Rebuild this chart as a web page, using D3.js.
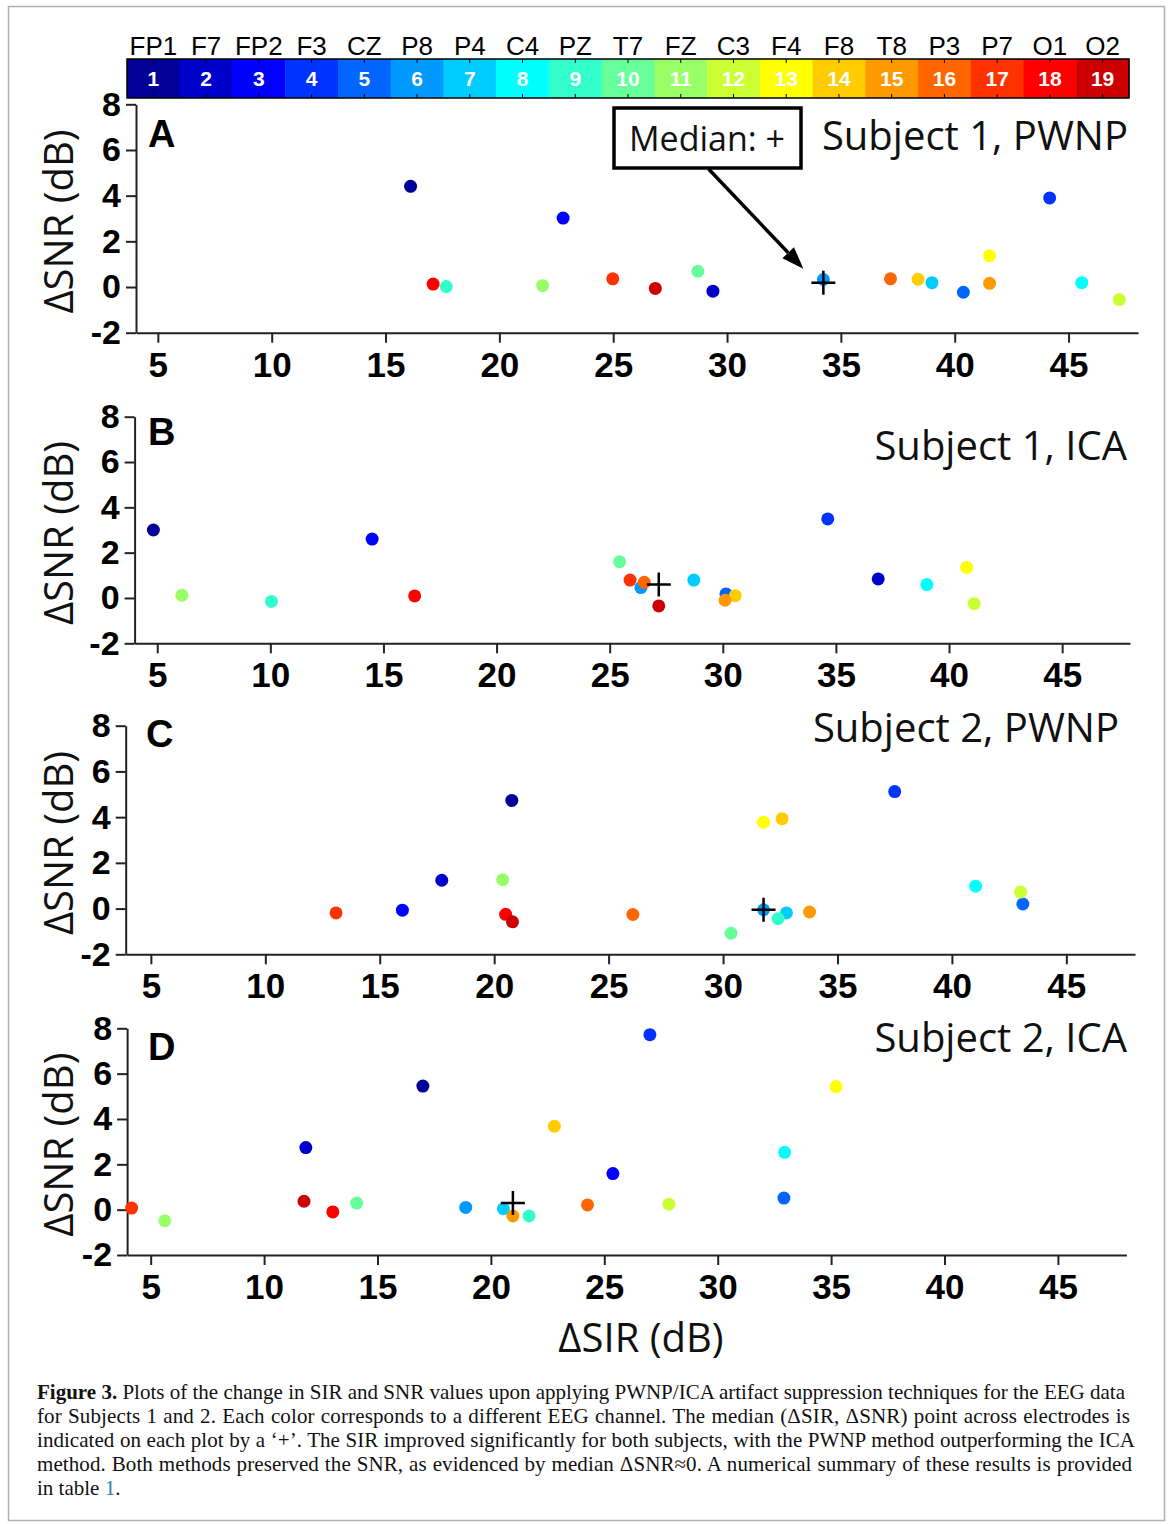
<!DOCTYPE html>
<html><head><meta charset="utf-8">
<script src="https://cdn.jsdelivr.net/npm/d3@7"></script>
<style>body{margin:0;background:#fff}</style>
</head><body>
<svg id="chart" width="1168" height="1524"></svg>
<script>
// ---------- data ----------
const channels = ["FP1","F7","FP2","F3","CZ","P8","P4","C4","PZ","T7","FZ","C3","F4","F8","T8","P3","P7","O1","O2"];
const channelColors = ["#000099","#0000cc","#0000ff","#0033ff","#0066ff","#0099ff","#00ccff","#00ffff","#33ffcc","#66ff99","#99ff66","#ccff33","#ffff00","#ffcc00","#ff9900","#ff6600","#ff3300","#ff0000","#cc0000"];
const xTicks = [5,10,15,20,25,30,35,40,45];
const yTicks = [-2,0,2,4,6,8];
const panelTitles = ["Subject 1, PWNP","Subject 1, ICA","Subject 2, PWNP","Subject 2, ICA"];
const panelLetters = ["A","B","C","D"];

// values per channel (order of `channels`)
const sirA = [16.1,29.38,22.8,44.17,40.38,34.23,39.0,45.58,17.67,28.72,21.9,47.23,41.53,38.39,41.53,37.18,24.98,17.09,26.85];
const snrA = [4.41,-0.18,3.02,3.9,-0.23,0.33,0.19,0.19,0.02,0.69,0.06,-0.55,1.37,0.34,0.16,0.36,0.36,0.13,-0.06];
const sirB = [4.83,36.87,14.5,34.64,30.14,26.38,28.72,39.02,10.05,25.44,6.09,41.11,40.78,30.55,30.1,26.53,25.9,16.38,27.17];
const snrB = [3.0,0.84,2.6,3.49,0.18,0.46,0.79,0.59,-0.15,1.6,0.12,-0.25,1.35,0.1,-0.1,0.69,0.79,0.09,-0.35];
const sirC = [20.77,17.71,15.99,37.5,43.1,31.77,32.77,41.04,32.4,30.35,20.37,43.0,31.77,32.58,33.78,26.06,13.09,20.5,20.8];
const snrC = [4.73,1.24,-0.07,5.12,0.2,-0.05,-0.19,0.98,-0.44,-1.08,1.26,0.72,3.78,3.93,-0.15,-0.26,-0.19,-0.25,-0.58];
const sirD = [17.0,11.84,25.38,27.01,32.92,18.89,20.55,32.95,21.68,14.08,5.62,27.85,35.22,22.8,20.97,24.26,4.16,13.03,11.76];
const snrD = [5.45,2.74,1.59,7.72,0.51,0.1,0.04,2.53,-0.28,0.29,-0.49,0.24,5.43,3.68,-0.28,0.21,0.07,-0.1,0.37];

const captionLines = [
  [["Figure 3.", "bold"], [" Plots of the change in SIR and SNR values upon applying PWNP/ICA artifact suppression techniques for the EEG data", "normal"]],
  [["for Subjects 1 and 2. Each color corresponds to a different EEG channel. The median (\u0394SIR, \u0394SNR) point across electrodes is", "normal"]],
  [["indicated on each plot by a \u2018+\u2019. The SIR improved significantly for both subjects, with the PWNP method outperforming the ICA", "normal"]],
  [["method. Both methods preserved the SNR, as evidenced by median \u0394SNR\u22480. A numerical summary of these results is provided", "normal"]],
  [["in table ", "normal"], ["1", "link"], [".", "normal"]]
];

// ---------- layout ----------
const svg = d3.select("#chart");
const W = 1168, H = 1524;
svg.append("rect").attr("width", W).attr("height", H).attr("fill", "#fff");
svg.append("rect").attr("x", 8.5).attr("y", 6.5).attr("width", 1156).attr("height", 1514)
  .attr("fill", "none").attr("stroke", "#b0b0b0").attr("stroke-width", 1.5);

const SANS = "'Liberation Sans', Arial, sans-serif";
const OPEN = "'Open Sans', 'Noto Sans', sans-serif";

// colorbar
const cbTop = 59, cbBot = 98;
const cbx = d3.scaleBand().domain(d3.range(channels.length)).range([127, 1129]);
const cb = svg.append("g");
cb.selectAll("rect.cell").data(channels).join("rect").attr("class","cell")
  .attr("x", (d,i) => cbx(i)).attr("y", cbTop).attr("width", cbx.bandwidth() + 0.5).attr("height", cbBot - cbTop)
  .attr("fill", (d,i) => channelColors[i]);
cb.selectAll("text.num").data(channels).join("text").attr("class","num")
  .attr("x", (d,i) => cbx(i) + cbx.bandwidth()/2).attr("y", 86)
  .attr("text-anchor","middle").attr("fill","#fff").attr("font-family", SANS)
  .attr("font-weight","bold").attr("font-size", 21).text((d,i) => i + 1);
cb.selectAll("text.name").data(channels).join("text").attr("class","name")
  .attr("x", (d,i) => cbx(i) + cbx.bandwidth()/2).attr("y", 55)
  .attr("text-anchor","middle").attr("fill","#000").attr("font-family", SANS)
  .attr("font-size", 26).text(d => d);
cb.selectAll("line.tt").data(channels).join("line").attr("class","tt")
  .attr("x1", (d,i) => cbx(i) + cbx.bandwidth()/2).attr("x2", (d,i) => cbx(i) + cbx.bandwidth()/2)
  .attr("y1", cbBot).attr("y2", cbBot - 4).attr("stroke","#000").attr("stroke-width",1);
cb.selectAll("line.tb").data(channels).join("line").attr("class","tb")
  .attr("x1", (d,i) => cbx(i) + cbx.bandwidth()/2).attr("x2", (d,i) => cbx(i) + cbx.bandwidth()/2)
  .attr("y1", cbTop).attr("y2", cbTop + 4).attr("stroke","#000").attr("stroke-width",1);
cb.append("rect").attr("x", 127).attr("y", cbTop).attr("width", 1129 - 127).attr("height", cbBot - cbTop)
  .attr("fill","none").attr("stroke","#000").attr("stroke-width",1.5);

// panels
const panelData = [[sirA, snrA],[sirB, snrB],[sirC, snrC],[sirD, snrD]];
const panelBoxes = [
  {left:136, right:1138, top:104.3, bottom:332.7, xmin:4.04, xmax:48.05, titleX:1128, titleY:150, letterX:148, letterY:147},
  {left:134.6, right:1130, top:416.7, bottom:643.3, xmin:4.0, xmax:48.0, titleX:1127, titleY:460, letterX:148, letterY:445},
  {left:125.7, right:1135, top:725.7, bottom:954.3, xmin:3.9, xmax:48.0, titleX:1119, titleY:742, letterX:146, letterY:747},
  {left:127.1, right:1126.4, top:1028.3, bottom:1255, xmin:3.96, xmax:48.02, titleX:1127, titleY:1052, letterX:148, letterY:1060}
];

const axisColor = "#222";
panelBoxes.forEach((p, k) => {
  const [sir, snr] = panelData[k];
  const x = d3.scaleLinear().domain([p.xmin, p.xmax]).range([p.left, p.right]);
  const y = d3.scaleLinear().domain([-2, 8]).range([p.bottom, p.top]);
  const g = svg.append("g");

  const gx = g.append("g").attr("transform", `translate(0,${p.bottom})`)
    .call(d3.axisBottom(x).tickValues(xTicks).tickSize(10).tickSizeOuter(0).tickPadding(9).tickFormat(d => String(d)));
  const gy = g.append("g").attr("transform", `translate(${p.left},0)`)
    .call(d3.axisLeft(y).tickValues(yTicks).tickSize(10).tickSizeOuter(0).tickPadding(5).tickFormat(d => String(d)));
  [gx, gy].forEach(a => {
    a.select(".domain").attr("stroke", axisColor).attr("stroke-width", 2);
    a.selectAll(".tick line").attr("stroke", axisColor).attr("stroke-width", 2);
    a.selectAll(".tick text").attr("fill","#000").attr("font-family", SANS).attr("font-weight","bold");
  });
  gx.selectAll(".tick text").attr("font-size", 35);
  gy.selectAll(".tick text").attr("font-size", 34);

  // y axis label
  g.append("text").attr("transform", `translate(73,${(p.top + p.bottom)/2 + 3}) rotate(-90)`)
    .attr("text-anchor","middle").attr("font-family", OPEN).attr("font-size", 40).attr("fill","#111")
    .text("\u0394SNR (dB)");

  // panel letter
  g.append("text").attr("x", p.letterX).attr("y", p.letterY).attr("font-family", SANS)
    .attr("font-weight","bold").attr("font-size", 38).attr("fill","#000").text(panelLetters[k]);

  // title
  g.append("text").attr("x", p.titleX).attr("y", p.titleY).attr("text-anchor","end")
    .attr("font-family", OPEN).attr("font-size", 40).attr("fill","#111").text(panelTitles[k]);

  // points
  const pts = channels.map((c, i) => ({c, i, x: sir[i], y: snr[i]}));
  g.selectAll("circle").data(pts).join("circle")
    .attr("cx", d => x(d.x)).attr("cy", d => y(d.y)).attr("r", 6.5)
    .attr("fill", d => channelColors[d.i]);

  // median +
  const mx = x(d3.median(sir)), my = y(d3.median(snr));
  g.append("path").attr("d", `M${mx-12},${my}H${mx+12}M${mx},${my-12}V${my+12}`)
    .attr("stroke","#000").attr("stroke-width",2.5).attr("fill","none");

  if (k === 0) {
    // annotation box + arrow
    g.append("rect").attr("x", 614).attr("y", 108).attr("width", 187).attr("height", 60)
      .attr("fill","#fff").attr("stroke","#000").attr("stroke-width",3.5);
    g.append("text").attr("x", 707).attr("y", 151).attr("text-anchor","middle")
      .attr("font-family", OPEN).attr("font-size", 34).attr("fill","#111").text("Median: +");
    const sx = 708.6, sy = 169, tx = mx - 20, ty = my - 14;
    const ang = Math.atan2(ty - sy, tx - sx), L = 22, Wd = 8;
    const bx = tx - L*Math.cos(ang), by = ty - L*Math.sin(ang);
    g.append("line").attr("x1", sx).attr("y1", sy).attr("x2", bx).attr("y2", by)
      .attr("stroke","#000").attr("stroke-width",3.5);
    const nx = -Math.sin(ang), ny = Math.cos(ang);
    g.append("path").attr("d", `M${tx},${ty}L${bx + nx*Wd},${by + ny*Wd}L${bx - nx*Wd},${by - ny*Wd}Z`)
      .attr("fill","#000");
  }
});

// x axis label
svg.append("text").attr("x", 641).attr("y", 1352).attr("text-anchor","middle")
  .attr("font-family", OPEN).attr("font-size", 40).attr("fill","#111").text("\u0394SIR (dB)");

// caption
const SERIF = "'Liberation Serif', 'Times New Roman', serif";
const capTargets = [1125, 1130, 1135, 1132, null];
captionLines.forEach((line, i) => {
  const t = svg.append("text").attr("x", 37).attr("y", 1399 + i*24)
    .attr("font-family", SERIF).attr("font-size", 21).attr("fill","#111");
  line.forEach(([s, st]) => {
    const ts = t.append("tspan").text(s);
    if (st === "bold") ts.attr("font-weight","bold");
    if (st === "link") ts.attr("fill","#2a7ab8");
  });
  if (capTargets[i]) {
    const nat = t.node().getComputedTextLength();
    const str = line.map(d => d[0]).join("");
    const diff = capTargets[i] - 37 - nat;
    const ls = diff * 0.5 / str.length;
    const ws = diff * 0.5 / (str.split(" ").length - 1);
    t.attr("letter-spacing", ls).attr("word-spacing", ws);
  }
});
</script>
</body></html>
